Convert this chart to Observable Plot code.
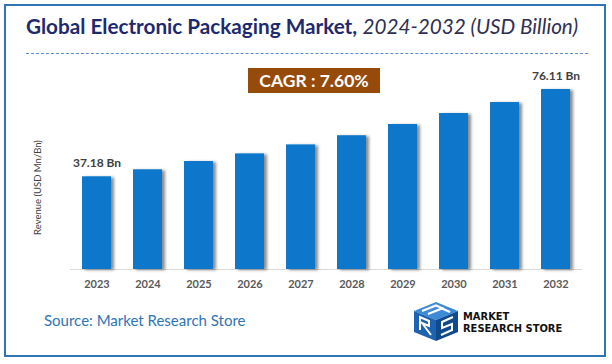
<!DOCTYPE html>
<html><head><meta charset="utf-8">
<script src="https://cdn.jsdelivr.net/npm/d3@7"></script>
<script src="https://cdn.jsdelivr.net/npm/@observablehq/plot@0.6"></script>
<style>
body{margin:0;background:#fff;}
#wrap{position:relative;width:612px;height:364px;overflow:hidden;font-family:Lato,sans-serif;background:#fff;}
#frame{position:absolute;left:4px;top:4px;width:602px;height:353px;border:2px solid #2E75B6;box-sizing:border-box;}
#title{position:absolute;left:26px;top:13px;white-space:nowrap;font-size:20.7px;line-height:26px;color:#1f2a6e;}
#title b{font-weight:700}
#title i{font-weight:400;color:#2f3050}
#dash{position:absolute;left:26px;top:53px;width:562px;border-top:1px dashed #5b8fd3;}
#chart{position:absolute;left:0;top:60px;}
#cagr{position:absolute;left:248px;top:68px;width:132px;height:25px;background:#964B0A;color:#fff;font-weight:700;font-size:17.5px;text-align:center;line-height:25px;}
#source{position:absolute;left:44px;top:311px;font-size:15px;line-height:18px;color:#2E75B6;}
#logo{position:absolute;left:412px;top:302px;}
.lt{position:absolute;left:463px;font-family:"DejaVu Sans Condensed","DejaVu Sans",sans-serif;font-weight:700;font-size:11px;line-height:12px;color:#111;white-space:nowrap;}
</style></head>
<body>
<div id="wrap">
  <div id="frame"></div>
  <div id="title"><b>Global Electronic Packaging Market,</b> <i>2024-2032 (USD Billion)</i></div>
  <div id="dash"></div>
  <div id="chart"></div>
  <div id="cagr">CAGR : 7.60%</div>
  <div id="source">Source: Market Research Store</div>
  <svg id="logo" width="48" height="40" viewBox="0 0 48 40">
    <polygon points="2,9 24,0 46,9 24,18" fill="#3d8ad6"/>
    <polygon points="2,9 24,18 24,39 2,30" fill="#1d63b0"/>
    <polygon points="24,18 46,9 46,30 24,39" fill="#104a8c"/>
    <polyline points="10,9 24,3.5 32,7" fill="none" stroke="#fff" stroke-width="2.2"/>
    <polyline points="16,12 30,6.5 38,10" fill="none" stroke="#fff" stroke-width="2.2"/>
    <polyline points="8,28 8,15 17,19 17,24 10,21 19,33" fill="none" stroke="#fff" stroke-width="2"/>
    <polyline points="41,15 30,20 30,26 40,22 40,28 29,33" fill="none" stroke="#fff" stroke-width="2"/>
  </svg>
  <div class="lt" style="top:310.5px">MARKET</div>
  <div class="lt" style="top:322.8px">RESEARCH STORE</div>
</div>
<script>
const years = ["2023","2024","2025","2026","2027","2028","2029","2030","2031","2032"];
const revenue = [37.18, 40.3, 44.0, 47.4, 51.4, 55.5, 60.5, 65.4, 70.3, 76.11];
const labeledYears = ["2023","2032"];
const axisLabel = "Revenue (USD Mn/Bn)";
const yBase = -4.15;
const yTop = 76.11;

const data = years.map((year, i) => ({year, value: revenue[i]}));

const chart = Plot.plot({
  width: 612, height: 240,
  marginLeft: 70, marginRight: 30, marginTop: 29, marginBottom: 31,
  style: {fontFamily: "Lato, sans-serif", fontSize: "11px", fontWeight: "bold", color: "#595959", background: "transparent", overflow: "visible"},
  x: {domain: years, paddingInner: 0.43, paddingOuter: 0.215, tickSize: 0, tickPadding: 11, label: null},
  y: {domain: [yBase, yTop], axis: null},
  marks: [
    Plot.ruleY([yBase], {stroke: "#d9d9d9", strokeWidth: 1}),
    Plot.barY(data, {x: "year", y1: yBase, y2: "value", fill: "#0A77CC"}),
    Plot.text(data.filter(d => labeledYears.includes(d.year)), {x: "year", y: "value", text: d => d.value.toFixed(2) + " Bn", dy: -10, lineAnchor: "bottom", fill: "#404040", fontSize: 12, fontWeight: "bold"}),
    Plot.text([axisLabel], {frameAnchor: "left", text: d => d, textAnchor: "middle", rotate: -90, dx: -33, dy: 8, fill: "#404040", fontSize: 9.5, fontWeight: "normal"})
  ]
});

const svg = d3.select(chart);
const defs = svg.insert("defs", ":first-child");
const f = defs.append("filter").attr("id", "shadow").attr("x", "-20%").attr("y", "-10%").attr("width", "160%").attr("height", "130%");
f.append("feDropShadow").attr("dx", 3).attr("dy", 1).attr("stdDeviation", 1.5).attr("flood-color", "#000").attr("flood-opacity", 0.45);
svg.selectAll('g[aria-label="bar"]').attr("filter", "url(#shadow)");

document.getElementById("chart").appendChild(chart);
</script>
</body></html>
